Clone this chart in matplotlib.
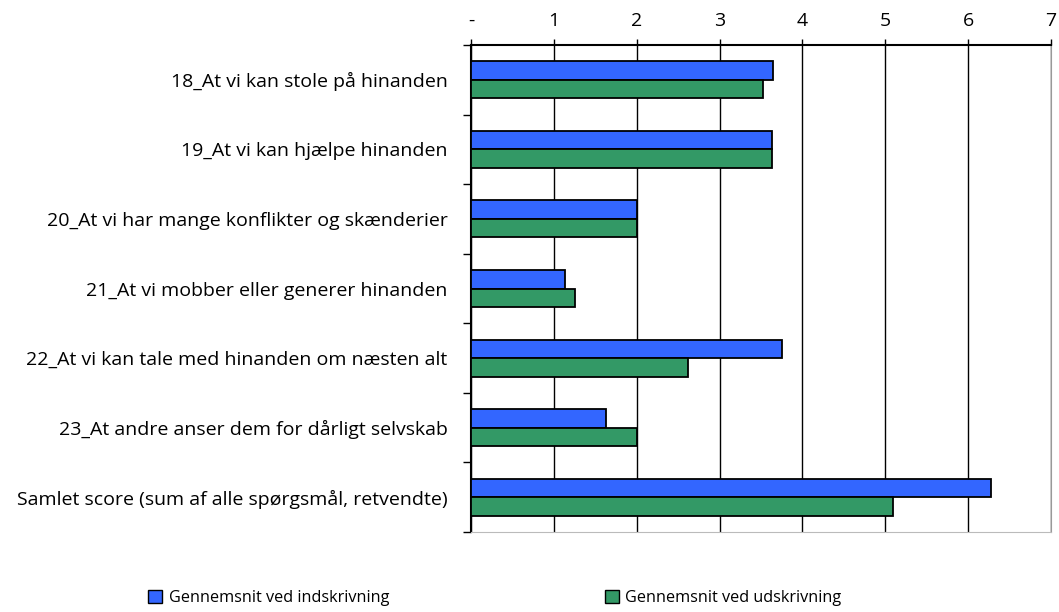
import matplotlib
matplotlib.use("Agg")
import matplotlib.pyplot as plt
import numpy as np
from matplotlib.patches import Patch

categories = [
    "18_At vi kan stole på hinanden",
    "19_At vi kan hjælpe hinanden",
    "20_At vi har mange konflikter og skænderier",
    "21_At vi mobber eller generer hinanden",
    "22_At vi kan tale med hinanden om næsten alt",
    "23_At andre anser dem for dårligt selvskab",
    "Samlet score (sum af alle spørgsmål, retvendte)",
]
indskrivning = [3.64, 3.63, 2.0, 1.13, 3.75, 1.63, 6.27]
udskrivning = [3.52, 3.63, 2.0, 1.25, 2.62, 2.0, 5.09]
series_names = ["Gennemsnit ved indskrivning", "Gennemsnit ved udskrivning"]
xtick_labels = ["-", "1", "2", "3", "4", "5", "6", "7"]

plt.rcParams['font.family'] = ['Open Sans', 'DejaVu Sans']

fig = plt.figure(figsize=(10.59, 6.12), dpi=100)
ax = fig.add_axes([471/1059, 1 - 532/612, (1051-471)/1059, (532-45)/612])

n = len(categories)
y = np.arange(n)
h = 0.265
blue = "#3366FF"
green = "#339966"
ax.barh(y - h/2, indskrivning, height=h, color=blue, edgecolor="black", linewidth=1.3, zorder=3)
ax.barh(y + h/2, udskrivning, height=h, color=green, edgecolor="black", linewidth=1.3, zorder=3)

ax.set_xlim(0, 7)
ax.set_ylim(n - 0.5, -0.5)
ax.xaxis.tick_top()
ax.set_xticks(range(8))
ax.set_xticklabels(xtick_labels, fontsize=14)
ax.tick_params(axis='x', which='major', length=4, width=1, pad=7, color='black')
ax.grid(axis='x', color='black', linewidth=1.0, zorder=0)

ax.set_yticks(y)
ax.set_yticklabels(categories, fontsize=14)
ax.tick_params(axis='y', which='major', length=0, pad=17)
ax.set_yticks(np.arange(-0.5, n, 1), minor=True)
ax.tick_params(axis='y', which='minor', length=6, width=1, color='black')

ax.spines['top'].set_color('black')
ax.spines['top'].set_linewidth(1.5)
ax.spines['left'].set_color('black')
ax.spines['left'].set_linewidth(1.5)
ax.spines['right'].set_color('#999999')
ax.spines['bottom'].set_color('#bbbbbb')

handles = [Patch(facecolor=blue, edgecolor='black', linewidth=1.0),
           Patch(facecolor=green, edgecolor='black', linewidth=1.0)]
fig.legend(handles, series_names, loc='center', bbox_to_anchor=(0.4674, 1 - 598/612),
           ncol=2, frameon=False, fontsize=11.7, handlelength=0.85, handleheight=0.85,
           handletextpad=0.4, columnspacing=13.3)

fig.savefig("out.png", dpi=100)
